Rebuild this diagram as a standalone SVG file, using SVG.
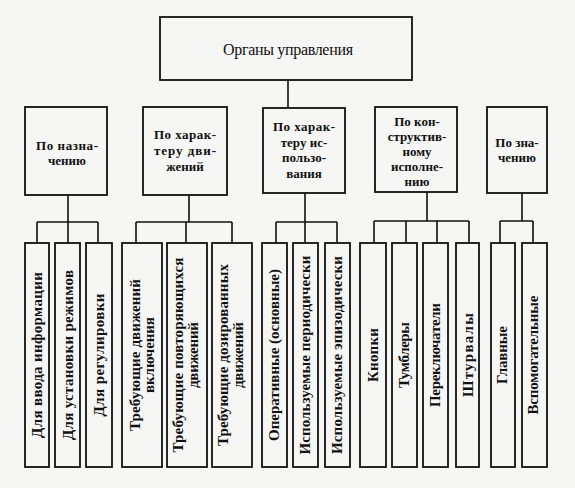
<svg xmlns="http://www.w3.org/2000/svg" width="575" height="488" viewBox="0 0 575 488" font-family="'Liberation Serif', 'Times New Roman', serif">
<style>
.box{fill:none;stroke:#111;stroke-width:1.8}
.ln{fill:none;stroke:#111;stroke-width:1.6}
text{font-family:'Liberation Serif','Times New Roman',serif;fill:#111}
.top{font-size:16px}
.mid{font-size:13px;font-weight:bold;text-anchor:middle}
.leaf{font-size:15px;font-weight:bold;text-anchor:middle}
</style>
<rect width="575" height="488" fill="#f6f6f4"/>
<g id="connectors" class="ln">
<path d="M288 80V108"/>
<path d="M68 195V222M37 222H98M37 222V243M68 222V243M98 222V243"/>
<path d="M189 195V222M136 222H232M136 222V243M186 222V243M232 222V243"/>
<path d="M305 193V222M276 222H337M276 222V243M305 222V243M337 222V243"/>
<path d="M427 192V221M374 221H469M374 221V243M406 221V243M437 221V243M469 221V243"/>
<path d="M522 193V221M500 221H533M500 221V243M533 221V243"/>
</g>
<g id="root"><rect class="box" x="160" y="17" width="252" height="63"/><text class="top" x="288" y="55" text-anchor="middle" textLength="130" lengthAdjust="spacing">Органы управления</text></g>
<g id="n1"><rect class="box" x="25" y="107" width="82" height="88"/><text class="mid" x="67" y="150" textLength="62" lengthAdjust="spacing">По назна-</text><text class="mid" x="67" y="165">чению</text></g>
<g id="n2"><rect class="box" x="143" y="107" width="84" height="88"/><text class="mid" x="185" y="139" textLength="62" lengthAdjust="spacing">По харак-</text><text class="mid" x="185" y="155" textLength="62" lengthAdjust="spacing">теру дви-</text><text class="mid" x="185" y="171">жений</text></g>
<g id="n3"><rect class="box" x="263" y="108" width="82" height="85"/><text class="mid" x="304" y="131" textLength="62" lengthAdjust="spacing">По харак-</text><text class="mid" x="304" y="147">теру ис-</text><text class="mid" x="304" y="162">пользо-</text><text class="mid" x="304" y="178">вания</text></g>
<g id="n4"><rect class="box" x="375" y="107" width="82" height="85"/><text class="mid" x="417" y="126">По кон-</text><text class="mid" x="417" y="141">структив-</text><text class="mid" x="417" y="156">ному</text><text class="mid" x="417" y="171">исполне-</text><text class="mid" x="417" y="186">нию</text></g>
<g id="n5"><rect class="box" x="487" y="107" width="60" height="86"/><text class="mid" x="517" y="147">По зна-</text><text class="mid" x="517" y="162">чению</text></g>
<g id="l1"><rect class="box" x="25" y="243" width="24" height="224"/><text class="leaf" transform="translate(42 355) rotate(-90)" textLength="166" lengthAdjust="spacing">Для ввода информации</text></g>
<g id="l2"><rect class="box" x="55" y="243" width="25" height="224"/><text class="leaf" transform="translate(73 355) rotate(-90)" textLength="170" lengthAdjust="spacing">Для установки режимов</text></g>
<g id="l3"><rect class="box" x="86" y="243" width="26" height="224"/><text class="leaf" transform="translate(104 355) rotate(-90)" textLength="123" lengthAdjust="spacing">Для регулировки</text></g>
<g id="l4"><rect class="box" x="122" y="243" width="40" height="224"/><text class="leaf" transform="translate(140 355) rotate(-90)" textLength="152" lengthAdjust="spacing">Требующие движений</text><text class="leaf" transform="translate(154 355) rotate(-90)" textLength="76" lengthAdjust="spacing">включения</text></g>
<g id="l5"><rect class="box" x="167" y="243" width="40" height="224"/><text class="leaf" transform="translate(183 355) rotate(-90)" textLength="195" lengthAdjust="spacing">Требующие повторяющихся</text><text class="leaf" transform="translate(198 355) rotate(-90)" textLength="66" lengthAdjust="spacing">движений</text></g>
<g id="l6"><rect class="box" x="212" y="243" width="40" height="224"/><text class="leaf" transform="translate(228 355) rotate(-90)" textLength="182" lengthAdjust="spacing">Требующие дозированных</text><text class="leaf" transform="translate(243 355) rotate(-90)" textLength="66" lengthAdjust="spacing">движений</text></g>
<g id="l7"><rect class="box" x="262" y="243" width="25" height="224"/><text class="leaf" transform="translate(279 355) rotate(-90)" textLength="172" lengthAdjust="spacing">Оперативные (основные)</text></g>
<g id="l8"><rect class="box" x="293" y="243" width="25" height="224"/><text class="leaf" transform="translate(310 355) rotate(-90)" textLength="199" lengthAdjust="spacing">Используемые периодически</text></g>
<g id="l9"><rect class="box" x="325" y="243" width="25" height="224"/><text class="leaf" transform="translate(342 355) rotate(-90)" textLength="198" lengthAdjust="spacing">Используемые эпизодически</text></g>
<g id="l10"><rect class="box" x="360" y="243" width="26" height="224"/><text class="leaf" transform="translate(378 355) rotate(-90)" textLength="54" lengthAdjust="spacing">Кнопки</text></g>
<g id="l11"><rect class="box" x="392" y="243" width="25" height="224"/><text class="leaf" transform="translate(409 355) rotate(-90)" textLength="66" lengthAdjust="spacing">Тумблеры</text></g>
<g id="l12"><rect class="box" x="423" y="243" width="25" height="224"/><text class="leaf" transform="translate(440 355) rotate(-90)" textLength="104" lengthAdjust="spacing">Переключатели</text></g>
<g id="l13"><rect class="box" x="456" y="243" width="23" height="224"/><text class="leaf" transform="translate(473 355) rotate(-90)" textLength="84" lengthAdjust="spacing">Штурвалы</text></g>
<g id="l14"><rect class="box" x="491" y="243" width="24" height="224"/><text class="leaf" transform="translate(507 355) rotate(-90)" textLength="58" lengthAdjust="spacing">Главные</text></g>
<g id="l15"><rect class="box" x="522" y="243" width="25" height="224"/><text class="leaf" transform="translate(538 355) rotate(-90)" textLength="119" lengthAdjust="spacing">Вспомогательные</text></g>
</svg>
